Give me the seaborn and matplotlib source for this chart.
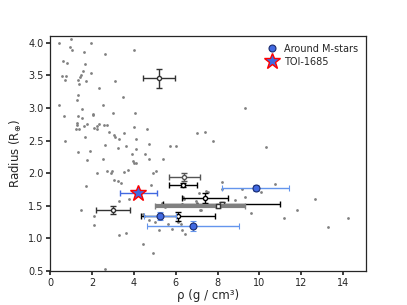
import numpy as np
import pandas as pd
import matplotlib
matplotlib.use("Agg")
import matplotlib.pyplot as plt
import seaborn as sns

# background sample of planets (density, radius)
bg_rho = [0.40, 0.96, 0.93, 1.04, 1.92, 1.60, 2.61, 3.98, 0.61, 0.80, 1.63, 1.57, 1.95,
          0.53, 0.75, 0.70, 1.46, 1.42, 1.30, 1.71, 1.37, 3.09, 2.30, 1.30, 1.28, 0.40,
          2.50, 3.45, 1.52, 0.66, 1.30, 1.50, 2.05, 2.02, 2.97, 4.04, 1.25, 1.28, 1.22,
          1.37, 1.60, 1.73, 2.08, 2.21, 2.33, 2.24, 2.57, 2.69, 2.81, 3.04, 3.10, 3.50,
          4.01, 4.60, 4.09, 1.66, 0.69, 3.26, 3.24, 2.62, 3.61, 4.71, 5.72, 6.01, 7.00,
          7.40, 1.30, 1.90, 3.90, 4.09, 4.51, 4.70, 5.40, 9.31, 7.80, 10.30,
          1.74, 2.50, 3.93, 4.01, 4.09, 2.21, 2.72, 2.94, 2.91, 3.52, 3.69, 4.89, 5.06,
          3.05, 3.23, 3.39, 4.80, 1.71, 3.77, 3.28, 1.46, 4.41, 4.49, 4.70, 5.32, 5.48,
          2.08, 2.09, 5.19, 5.64, 6.25, 6.31, 6.44, 3.29, 3.60, 4.41, 4.91, 2.62, 7.16,
          7.35, 7.51, 7.43, 7.55, 7.03, 6.36, 6.41, 7.11, 6.95, 6.28, 7.20, 5.02, 5.80,
          8.20, 8.20, 9.15, 10.08, 10.74, 8.83, 9.31, 9.60, 11.82, 12.67, 11.19, 13.27,
          14.26, 6.12]
bg_rad = [4.00, 4.06, 3.93, 3.89, 4.00, 3.86, 3.83, 3.88, 3.72, 3.68, 3.67, 3.57, 3.53,
          3.49, 3.49, 3.43, 3.50, 3.47, 3.43, 3.41, 3.37, 3.41, 3.31, 3.19, 3.12, 3.05,
          3.05, 3.17, 2.98, 2.87, 2.87, 2.84, 2.91, 2.89, 2.92, 2.92, 2.77, 2.73, 2.68,
          2.67, 2.72, 2.75, 2.69, 2.72, 2.75, 2.67, 2.73, 2.74, 2.63, 2.59, 2.56, 2.61,
          2.71, 2.67, 2.53, 2.55, 2.49, 2.52, 2.39, 2.43, 2.42, 2.44, 2.41, 2.41, 2.61,
          2.63, 2.32, 2.34, 2.30, 2.37, 2.29, 2.22, 2.22, 3.00, 2.49, 2.40,
          2.20, 2.21, 2.19, 2.16, 2.15, 2.00, 2.03, 2.04, 2.00, 2.02, 2.05, 2.00, 2.04,
          1.90, 1.88, 1.85, 1.82, 1.81, 1.60, 1.57, 1.43, 1.38, 1.34, 1.29, 1.54, 1.48,
          1.34, 1.21, 1.13, 1.22, 1.22, 1.13, 1.07, 1.05, 1.09, 0.92, 0.78, 0.54, 1.43,
          1.49, 1.51, 1.73, 1.71, 1.55, 1.64, 1.60, 1.70, 1.57, 1.53, 1.44, 1.26, 1.14,
          1.87, 1.75, 1.75, 1.71, 1.83, 1.59, 1.64, 1.39, 1.43, 1.60, 1.31, 1.18,
          1.32, 1.25]

# comparison planets with error bars
cmp_rho = [3.00, 6.40, 6.35, 7.40, 6.10, 5.21]
cmp_rho_err = [0.80, 0.74, 0.66, 1.10, 1.77, 0.77]
cmp_rad = [1.43, 1.94, 1.82, 1.62, 1.34, 3.45]
cmp_rad_err = [0.06, 0.06, 0.03, 0.07, 0.07, 0.14]
cmp_col = ["#333333", "#555555", "black", "black", "black", "#333333"]

# the two overlapping points with broad density errors
wide_rho = [8.00, 8.20]
wide_rho_lo = [3.00, 2.80]
wide_rho_hi = [1.30, 2.80]
wide_rad = [1.50, 1.53]
wide_col = ["#808080", "black"]

# planets around M stars
m_rho = [5.24, 6.81, 9.82]
m_rho_err = [0.75, 2.20, 1.60]
m_rad = [1.35, 1.19, 1.775]
m_rad_err = [0.06, 0.08, 0.05]

toi_rho, toi_rho_err, toi_rad, toi_rad_err = 4.20, 0.88, 1.70, 0.04

sns.set_theme(style="ticks", rc={"xtick.labelsize": 7, "ytick.labelsize": 7,
                                 "xtick.major.size": 3, "ytick.major.size": 3,
                                 "xtick.major.pad": 2, "ytick.major.pad": 2,
                                 "axes.linewidth": 0.9})
plt.rcParams["font.family"] = ["DejaVu Sans"]

fig = plt.figure(figsize=(4.07, 3.05), dpi=100)
ax = fig.add_axes([0.124, 0.111, 0.775, 0.771])

bg = pd.DataFrame({"rho": bg_rho, "rad": bg_rad})
sns.scatterplot(data=bg, x="rho", y="rad", color="grey", s=4, linewidth=0, ax=ax, zorder=1)

for x, xe, y, ye, c in zip(cmp_rho, cmp_rho_err, cmp_rad, cmp_rad_err, cmp_col):
    ax.errorbar(x, y, xerr=xe, yerr=ye, fmt="o", ms=3, mfc="white", mec=c, color=c,
                elinewidth=1, capsize=2, capthick=1, zorder=3)

for x, lo, hi, y, c in zip(wide_rho, wide_rho_lo, wide_rho_hi, wide_rad, wide_col):
    lw = 3 if c != "black" else 1
    ax.errorbar(x, y, xerr=[[lo], [hi]], yerr=0.03, fmt="s", ms=3, mfc="white", mec="#333333",
                color=c, elinewidth=lw, capsize=2, capthick=1, zorder=3 if lw == 3 else 2)

ax.errorbar(m_rho, m_rad, xerr=m_rho_err, yerr=m_rad_err, fmt="o", ms=5,
            mfc="royalblue", mec="#1a2a6c", mew=0.8, ecolor="cornflowerblue",
            elinewidth=1, capsize=2, capthick=1, zorder=4, label="Around M-stars")
ax.errorbar(toi_rho, toi_rad, xerr=toi_rho_err, yerr=toi_rad_err, fmt="*", ms=12,
            mfc="royalblue", mec="red", mew=1, ecolor="royalblue",
            elinewidth=1, capsize=2, capthick=1, zorder=5, label="TOI-1685")

ax.set_xlim(0, 15.1)
ax.set_ylim(0.5, 4.1)
ax.set_xticks([0, 2, 4, 6, 8, 10, 12, 14])
ax.set_xlabel("ρ (g / cm³)", fontsize=8.5, labelpad=1)
ax.set_ylabel(r"Radius (R$_{\oplus}$)", fontsize=8.5, labelpad=3)

h, l = ax.get_legend_handles_labels()
h = [x[0] for x in h]
ax.legend(h, l, loc="upper right", frameon=False, fontsize=7, handletextpad=0.5,
          handlelength=1.5, borderaxespad=0.4, labelspacing=0.3)

fig.savefig("out.png", dpi=100)
